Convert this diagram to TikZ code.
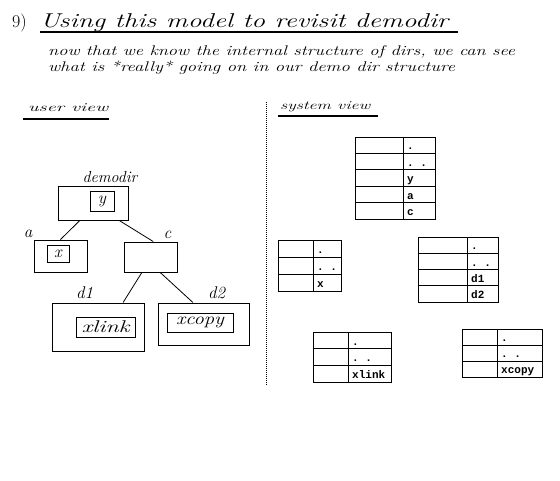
\documentclass[tikz,border=0pt]{standalone}
\usepackage{fontspec}
\setmonofont{Liberation Mono}
\usetikzlibrary{calc}
\newcommand\fitw[2]{\resizebox{#1}{\height}{#2}}
\newcommand\dd{.\hspace{6.6pt}.}
\tikzset{
  box/.style={draw, line width=1pt, inner sep=0pt, rectangle},
  hand/.style={font=\itshape\fontsize{14}{14}\selectfont, inner sep=0pt, anchor=base west},
  lbl/.style={font=\itshape\fontsize{17}{17}\selectfont, inner sep=0pt},
  conn/.style={line width=0.8pt},
  tbl/.style={line width=1pt},
  uline/.style={line width=2pt},
  entry/.style={font=\ttfamily\bfseries\fontsize{11}{11}\selectfont, inner sep=0pt, anchor=base west},
}
\newcommand\dirtable[7]{%
  \foreach \e [count=\i] in {#7} {%
    \draw[tbl] (#2,{#5+(\i-1)*#6}) rectangle (#4,{#5+\i*#6});
    \draw[tbl] (#3,{#5+(\i-1)*#6}) -- (#3,{#5+\i*#6});
    \node[entry] (#1-\i) at ({#3+4},{#5+\i*#6-3.5}) {\e};
  }%
}
\begin{document}
\begin{tikzpicture}[x=1pt,y=-1pt]
\fill[white] (0,0) rectangle (560,480);
\useasboundingbox (0,0) rectangle (560,480);

% title
\node[anchor=base west, inner sep=0pt, font=\fontsize{18}{18}\selectfont] (num) at (12,27) {9)};
\node[anchor=base west, inner sep=0pt, font=\itshape\fontsize{20}{20}\selectfont] (title) at (40,27) {\fitw{408pt}{Using this model to revisit demodir}};
\draw[uline] (40,32) -- (458,32);

\node[hand] (sub1) at (48,55) {\fitw{467pt}{now that we know the internal structure of dirs, we can see}};
\node[hand] (sub2) at (48,71) {\fitw{407pt}{what is *really* going on in our demo dir structure}};

% section headers
\node[hand, font=\itshape\fontsize{12}{12}\selectfont] (uv) at (28,111) {\fitw{80pt}{user view}};
\draw[uline] (23,119) -- (109,119);
\node[hand, font=\itshape\fontsize{12}{12}\selectfont] (sv) at (280,109) {\fitw{90pt}{system view}};
\draw[uline] (278,116) -- (378,116);

\draw[line width=1pt, dash pattern=on 1pt off 1pt] (266,102) -- (266,385);

% user view
\node[box, minimum width=70pt, minimum height=34pt] (demodir) at (93,203) {};
\node[box, lbl, minimum width=24pt, minimum height=20pt] (y) at (102,201) {y};
\node[lbl, anchor=base, font=\itshape\fontsize{16}{16}\selectfont] (demodirlbl) at (110,182) {demodir};

\node[box, minimum width=53pt, minimum height=32pt] (a) at (60.5,256) {};
\node[box, lbl, minimum width=22pt, minimum height=17pt] (x) at (58,253.5) {x};
\node[lbl, anchor=base] (albl) at (28,237) {a};

\node[box, minimum width=53pt, minimum height=30pt] (c) at (150.5,257) {};
\node[lbl, anchor=base] (clbl) at (167.5,238) {c};

\node[box, minimum width=92pt, minimum height=48pt] (d1) at (98,327) {};
\node[box, lbl, minimum width=59pt, minimum height=20pt] (xlink) at (105.5,327) {\fitw{48pt}{xlink}};
\node[lbl, anchor=base] (d1lbl) at (84.5,298) {d1};

\node[box, minimum width=91pt, minimum height=42pt] (d2) at (203.5,324) {};
\node[box, lbl, minimum width=66pt, minimum height=19pt] (xcopy) at (200,322.5) {\fitw{48pt}{xcopy}};
\node[lbl, anchor=base] (d2lbl) at (216.5,298) {d2};

\draw[conn] ($(demodir.south west)!0.314!(demodir.south east)$) -- (a.north);
\draw[conn] ($(demodir.south west)!0.87!(demodir.south east)$) -- ($(c.north west)!0.55!(c.north east)$);
\draw[conn] ($(c.south west)!0.34!(c.south east)$) -- ($(d1.north west)!0.77!(d1.north east)$);
\draw[conn] ($(c.south west)!0.68!(c.south east)$) -- ($(d2.north west)!0.385!(d2.north east)$);

% system view
\dirtable{t1}{355}{403}{435}{137}{16.4}{.,\dd,y,a,c}
\dirtable{t2}{278}{313}{341}{240}{17}{.,\dd,x}
\dirtable{t3}{418}{467}{498}{237}{16.25}{.,\dd,d1,d2}
\dirtable{t4}{313}{348}{391}{332}{16.7}{.,\dd,xlink}
\dirtable{t5}{462}{497}{542}{329}{16}{.,\dd,xcopy}
\end{tikzpicture}
\end{document}
